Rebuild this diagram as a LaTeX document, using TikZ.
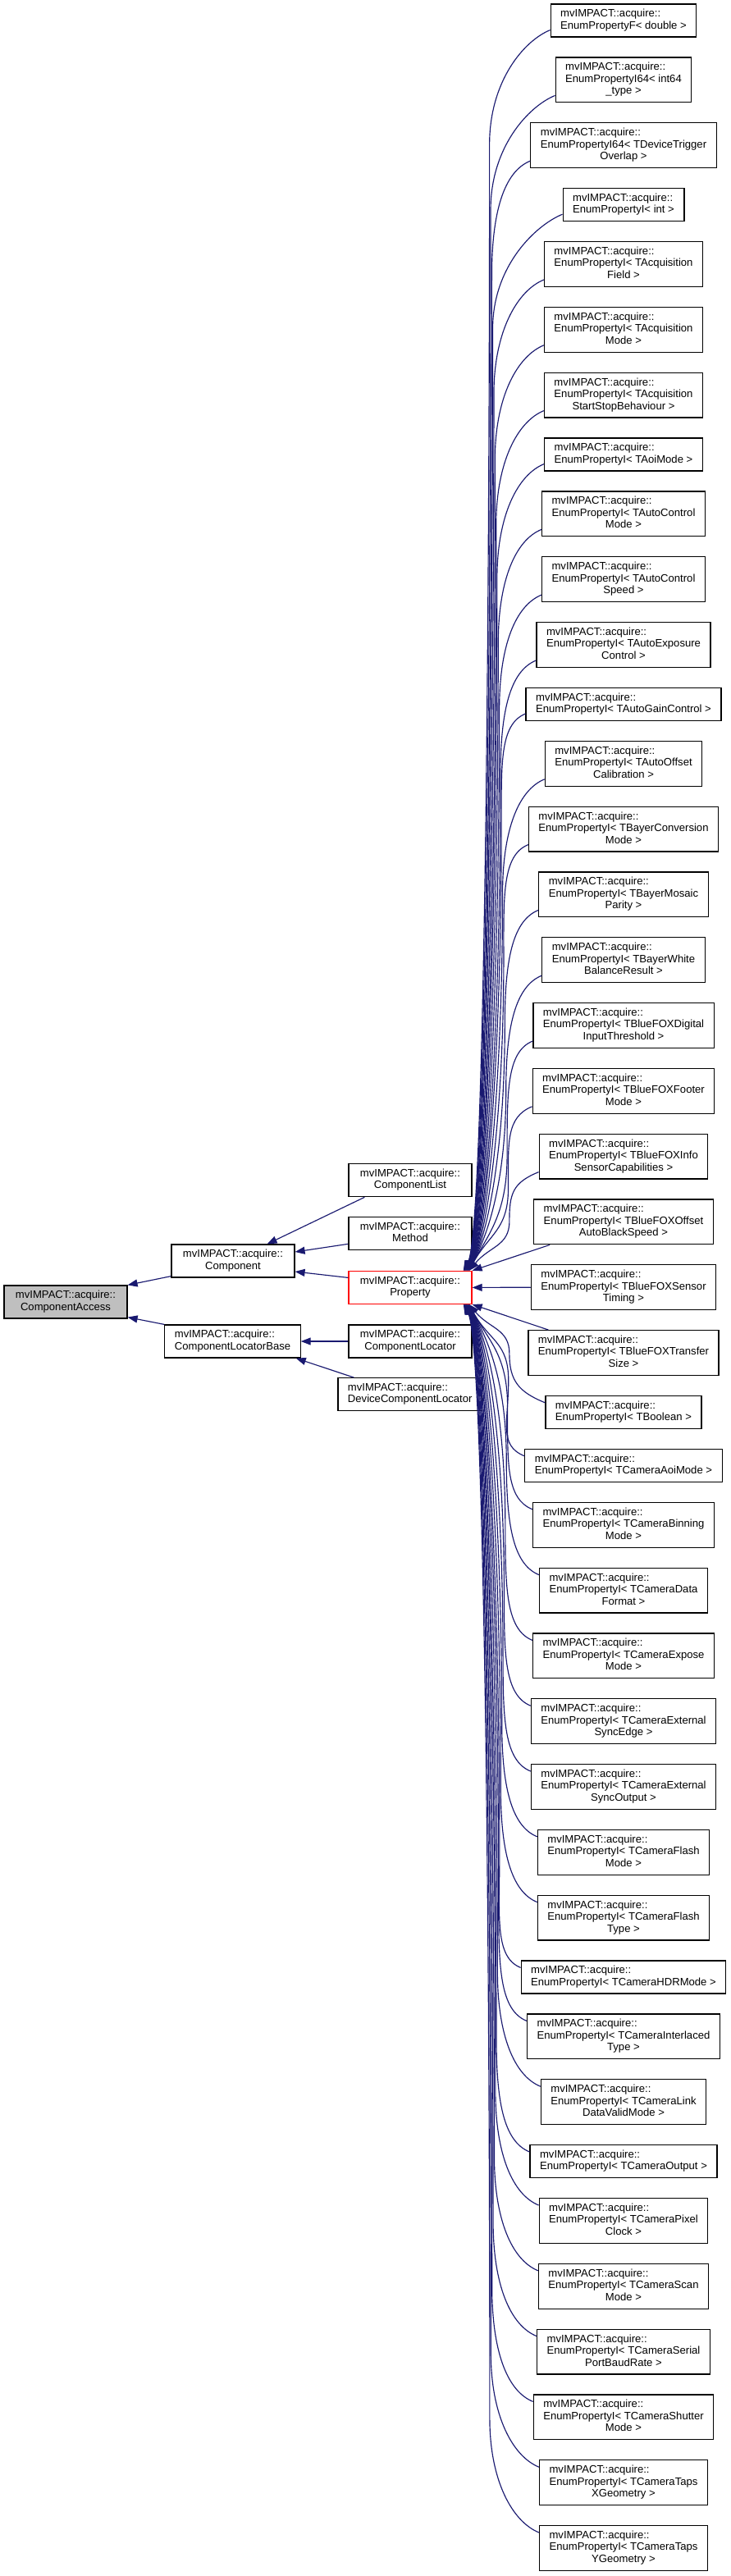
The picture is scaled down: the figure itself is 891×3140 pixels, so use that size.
\documentclass[tikz,border=0pt]{standalone}
\usepackage{fontspec}
\setmainfont{Liberation Sans}
\usetikzlibrary{arrows.meta,calc}
\definecolor{edgeblue}{HTML}{191970}
\definecolor{cagray}{HTML}{BFBFBF}
\newcommand\twol[2]{\begin{tabular}{@{}l@{}}#1\\\multicolumn{1}{@{}c@{}}{#2}\end{tabular}}
\newcommand\threel[3]{\begin{tabular}{@{}l@{}}#1\\#2\\\multicolumn{1}{@{}c@{}}{#3}\end{tabular}}
\tikzset{
  box/.style={draw=black, line width=1.2pt, fill=white, inner xsep=12pt, inner ysep=0pt,
    font=\fontsize{13.1}{14.5}\selectfont, minimum height=40pt},
  box3/.style={box, minimum height=54.8pt},
  edge/.style={draw=edgeblue, line width=1.15pt, {Triangle[length=12pt,width=9pt]}-},
}
\begin{document}
\begin{tikzpicture}[x=1pt,y=-1pt]
\useasboundingbox (0,0) rectangle (891,3140);
\fill[white] (0,0) rectangle (891,3140);
% left part
\node[box, fill=cagray, minimum width=150pt] (ca) at (80,1587) {\twol{mvIMPACT::acquire::}{ComponentAccess}};
\node[box, minimum width=150pt] (comp) at (284,1537) {\twol{mvIMPACT::acquire::}{Component}};
\node[box, minimum width=163pt] (clb) at (283.5,1635) {\twol{mvIMPACT::acquire::}{ComponentLocatorBase}};
\node[box, minimum width=150pt] (cl) at (500,1438.7) {\twol{mvIMPACT::acquire::}{ComponentList}};
\node[box, minimum width=150pt] (method) at (500,1503.7) {\twol{mvIMPACT::acquire::}{Method}};
\node[box, minimum width=150pt, draw=red] (prop) at (500,1569.4) {\twol{mvIMPACT::acquire::}{Property}};
\node[box, minimum width=150pt] (cloc) at (500,1635) {\twol{mvIMPACT::acquire::}{ComponentLocator}};
\node[box, minimum width=173pt] (dcl) at (499.7,1699.7) {\twol{mvIMPACT::acquire::}{DeviceComponentLocator}};
% right column
\node[box] (n1) at (760,25) {\twol{mvIMPACT::acquire::}{EnumPropertyF< double >}};
\node[box3] (n2) at (760,97.4) {\threel{mvIMPACT::acquire::}{EnumPropertyI64< int64}{\_type >}};
\node[box3] (n3) at (760,177.2) {\threel{mvIMPACT::acquire::}{EnumPropertyI64< TDeviceTrigger}{Overlap >}};
\node[box] (n4) at (760,249.6) {\twol{mvIMPACT::acquire::}{EnumPropertyI< int >}};
\node[box3] (n5) at (760,322) {\threel{mvIMPACT::acquire::}{EnumPropertyI< TAcquisition}{Field >}};
\node[box3] (n6) at (760,401.8) {\threel{mvIMPACT::acquire::}{EnumPropertyI< TAcquisition}{Mode >}};
\node[box3] (n7) at (760,481.6) {\threel{mvIMPACT::acquire::}{EnumPropertyI< TAcquisition}{StartStopBehaviour >}};
\node[box] (n8) at (760,554) {\twol{mvIMPACT::acquire::}{EnumPropertyI< TAoiMode >}};
\node[box3] (n9) at (760,626.4) {\threel{mvIMPACT::acquire::}{EnumPropertyI< TAutoControl}{Mode >}};
\node[box3] (n10) at (760,706.2) {\threel{mvIMPACT::acquire::}{EnumPropertyI< TAutoControl}{Speed >}};
\node[box3] (n11) at (760,786) {\threel{mvIMPACT::acquire::}{EnumPropertyI< TAutoExposure}{Control >}};
\node[box] (n12) at (760,858.4) {\twol{mvIMPACT::acquire::}{EnumPropertyI< TAutoGainControl >}};
\node[box3] (n13) at (760,930.8) {\threel{mvIMPACT::acquire::}{EnumPropertyI< TAutoOffset}{Calibration >}};
\node[box3] (n14) at (760,1010.6) {\threel{mvIMPACT::acquire::}{EnumPropertyI< TBayerConversion}{Mode >}};
\node[box3] (n15) at (760,1090.4) {\threel{mvIMPACT::acquire::}{EnumPropertyI< TBayerMosaic}{Parity >}};
\node[box3] (n16) at (760,1170.2) {\threel{mvIMPACT::acquire::}{EnumPropertyI< TBayerWhite}{BalanceResult >}};
\node[box3] (n17) at (760,1250) {\threel{mvIMPACT::acquire::}{EnumPropertyI< TBlueFOXDigital}{InputThreshold >}};
\node[box3] (n18) at (760,1329.8) {\threel{mvIMPACT::acquire::}{EnumPropertyI< TBlueFOXFooter}{Mode >}};
\node[box3] (n19) at (760,1409.6) {\threel{mvIMPACT::acquire::}{EnumPropertyI< TBlueFOXInfo}{SensorCapabilities >}};
\node[box3] (n20) at (760,1489.4) {\threel{mvIMPACT::acquire::}{EnumPropertyI< TBlueFOXOffset}{AutoBlackSpeed >}};
\node[box3] (n21) at (760,1569.2) {\threel{mvIMPACT::acquire::}{EnumPropertyI< TBlueFOXSensor}{Timing >}};
\node[box3] (n22) at (760,1649) {\threel{mvIMPACT::acquire::}{EnumPropertyI< TBlueFOXTransfer}{Size >}};
\node[box] (n23) at (760,1721.4) {\twol{mvIMPACT::acquire::}{EnumPropertyI< TBoolean >}};
\node[box] (n24) at (760,1786.4) {\twol{mvIMPACT::acquire::}{EnumPropertyI< TCameraAoiMode >}};
\node[box3] (n25) at (760,1858.8) {\threel{mvIMPACT::acquire::}{EnumPropertyI< TCameraBinning}{Mode >}};
\node[box3] (n26) at (760,1938.6) {\threel{mvIMPACT::acquire::}{EnumPropertyI< TCameraData}{Format >}};
\node[box3] (n27) at (760,2018.4) {\threel{mvIMPACT::acquire::}{EnumPropertyI< TCameraExpose}{Mode >}};
\node[box3] (n28) at (760,2098.2) {\threel{mvIMPACT::acquire::}{EnumPropertyI< TCameraExternal}{SyncEdge >}};
\node[box3] (n29) at (760,2178) {\threel{mvIMPACT::acquire::}{EnumPropertyI< TCameraExternal}{SyncOutput >}};
\node[box3] (n30) at (760,2257.8) {\threel{mvIMPACT::acquire::}{EnumPropertyI< TCameraFlash}{Mode >}};
\node[box3] (n31) at (760,2337.6) {\threel{mvIMPACT::acquire::}{EnumPropertyI< TCameraFlash}{Type >}};
\node[box] (n32) at (760,2410) {\twol{mvIMPACT::acquire::}{EnumPropertyI< TCameraHDRMode >}};
\node[box3] (n33) at (760,2482.4) {\threel{mvIMPACT::acquire::}{EnumPropertyI< TCameraInterlaced}{Type >}};
\node[box3] (n34) at (760,2562.2) {\threel{mvIMPACT::acquire::}{EnumPropertyI< TCameraLink}{DataValidMode >}};
\node[box] (n35) at (760,2634.6) {\twol{mvIMPACT::acquire::}{EnumPropertyI< TCameraOutput >}};
\node[box3] (n36) at (760,2707) {\threel{mvIMPACT::acquire::}{EnumPropertyI< TCameraPixel}{Clock >}};
\node[box3] (n37) at (760,2786.8) {\threel{mvIMPACT::acquire::}{EnumPropertyI< TCameraScan}{Mode >}};
\node[box3] (n38) at (760,2866.6) {\threel{mvIMPACT::acquire::}{EnumPropertyI< TCameraSerial}{PortBaudRate >}};
\node[box3] (n39) at (760,2946.4) {\threel{mvIMPACT::acquire::}{EnumPropertyI< TCameraShutter}{Mode >}};
\node[box3] (n40) at (760,3026.2) {\threel{mvIMPACT::acquire::}{EnumPropertyI< TCameraTaps}{XGeometry >}};
\node[box3] (n41) at (760,3106) {\threel{mvIMPACT::acquire::}{EnumPropertyI< TCameraTaps}{YGeometry >}};
% left edges
\draw[edge] (ca.north east) -- ($(comp.south west)+(0,-2)$);
\draw[edge] ($(ca.south east)+(0,-2)$) -- (clb.north west);
\draw[edge] ($(comp.north east)+(-34,0)$) -- ($(cl.south west)+(20,0)$);
\draw[edge] ($(comp.east)+(0,-11)$) -- ($(method.south west)+(0,-8)$);
\draw[edge] ($(comp.east)+(0,13)$) -- ($(prop.west)+(0,-12)$);
\draw[edge] (clb.east) -- (cloc.west);
\draw[edge] ($(clb.south east)+(-6,0)$) -- ($(dcl.north west)+(20,0)$);
% straight right edges
\draw[edge] (prop.north east) -- ($(n20.south west)+(20,0)$);
\draw[edge] (prop.east) -- (n21.west);
\draw[edge] (prop.south east) -- ($(n22.north west)+(25,0)$);
% upper curved edges
\foreach \n/\yb in {n1/45, n2/124.8, n3/204.6, n4/269.6, n5/349.4, n6/429.2, n7/509, n8/574, n9/653.8, n10/733.6, n11/813.4, n12/878.4, n13/958.2, n14/1038, n15/1117.8, n16/1197.6, n17/1277.4, n18/1357.2, n19/1437}{
  \pgfmathsetmacro\eyt{\yb-9}
  \pgfmathsetmacro\eD{1549.4-\eyt}
  \pgfmathsetmacro\ef{1-\eD/1550}
  \pgfmathsetmacro\exv{596+27*\ef}
  \pgfmathsetmacro\esx{-11+8*\ef}
  \pgfmathsetmacro\ebend{min(140,0.5*\eD)}
  \pgfmathsetmacro\epy{\eyt+\ebend}
  \pgfmathsetmacro\eL{1549.4-\epy}
  \pgfmathsetmacro\eca{1549.4-min(45,0.5*\eL)}
  \pgfmathsetmacro\ecb{\epy+0.5*\eL}
  \pgfmathsetmacro\ecc{\eyt+0.45*\ebend}
  \pgfmathsetmacro\ecx{575+\esx+25}
  \draw[edge] ($(prop.north east)+(\esx,0)$) .. controls (\ecx,\eca) and (\exv,\ecb) .. (\exv,\epy) .. controls (\exv,\ecc) and ($(\n.south west)+(-32,4)$) .. ($(\n.south west)+(0,-9)$);
}
% lower curved edges
\foreach \n/\yt in {n23/1701.4, n24/1766.4, n25/1831.4, n26/1911.2, n27/1991, n28/2070.8, n29/2150.6, n30/2230.4, n31/2310.2, n32/2390, n33/2455, n34/2534.8, n35/2614.6, n36/2679.6, n37/2759.4, n38/2839.2, n39/2919, n40/2998.8, n41/3078.6}{
  \pgfmathsetmacro\eyt{\yt+9}
  \pgfmathsetmacro\eD{\eyt-1589.4}
  \pgfmathsetmacro\ef{1-\eD/1550}
  \pgfmathsetmacro\exv{596+27*\ef}
  \pgfmathsetmacro\esx{-11+8*\ef}
  \pgfmathsetmacro\ebend{min(140,0.5*\eD)}
  \pgfmathsetmacro\epy{\eyt-\ebend}
  \pgfmathsetmacro\eL{\epy-1589.4}
  \pgfmathsetmacro\eca{1589.4+min(45,0.5*\eL)}
  \pgfmathsetmacro\ecb{\epy-0.5*\eL}
  \pgfmathsetmacro\ecc{\eyt-0.45*\ebend}
  \pgfmathsetmacro\ecx{575+\esx+25}
  \draw[edge] ($(prop.south east)+(\esx,0)$) .. controls (\ecx,\eca) and (\exv,\ecb) .. (\exv,\epy) .. controls (\exv,\ecc) and ($(\n.north west)+(-32,-4)$) .. ($(\n.north west)+(0,9)$);
}
\end{tikzpicture}
\end{document}
